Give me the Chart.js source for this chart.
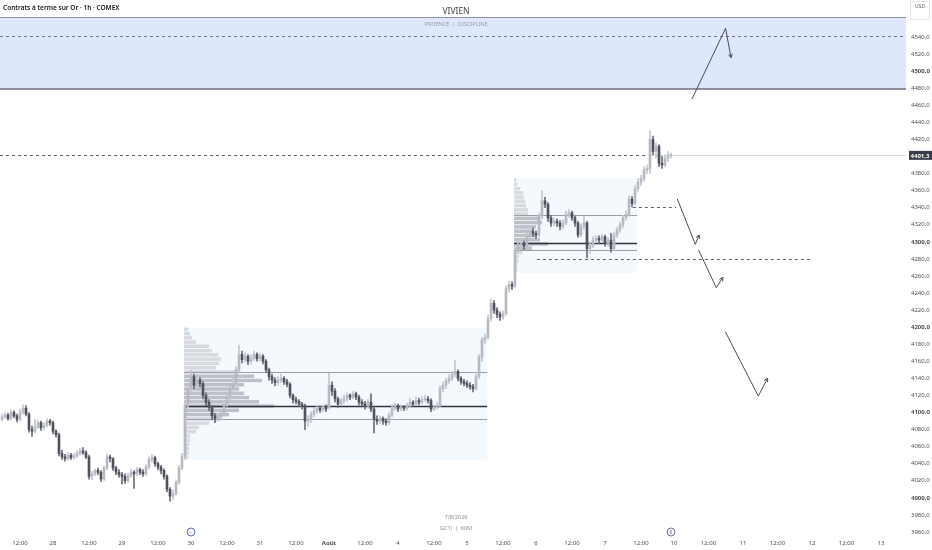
<!DOCTYPE html>
<html>
<head>
<meta charset="utf-8">
<script src="https://cdn.jsdelivr.net/npm/chart.js@4.4.1/dist/chart.umd.min.js"></script>
<style>
  html, body { margin: 0; padding: 0; background: #fff; }
  #wrap { width: 932px; height: 550px; }
</style>
</head>
<body>
<div id="wrap"><canvas id="gc"></canvas></div>
<script>
'use strict'
// GC1! 1h candles, one per trading hour (slot), first candle at slot -6
const firstSlot = -6;
const opens = [
  4092,4095,4097,4093,4100,4096,4092,4100,4105,4098,4080,4078,4083,4088,4082,4085,4090,4088,4078,4074,4052,
  4048,4046,4050,4047,4049,4052,4055,4053,4048,4025,4028,4032,4030,4022,4035,4048,4046,4035,4030,4027,
  4025,4020,4026,4030,4028,4033,4030,4028,4036,4045,4047,4040,4036,4032,4025,4010,4002,4005,4018,4035,
  4048,4108,4128,4142,4132,4138,4134,4120,4112,4106,4096,4093,4095,4098,4110,4118,4128,4134,4150,4168,
  4162,4166,4160,4164,4168,4163,4166,4160,4150,4142,4138,4135,4138,4140,4136,4133,4120,4115,4113,4110,
  4108,4090,4092,4098,4102,4105,4103,4107,
  4106,4132,4125,4116,4110,4114,4116,4120,4118,4122,4118,4112,4110,4108,4112,4104,4092,4090,4093,4090,
  4088,4097,4105,4108,4104,4106,4105,4108,4112,4110,4114,4112,4115,4116,4114,4104,4106,4108,4128,4132,
  4137,4140,4145,4148,4140,4136,4134,4132,4130,4128,
  4142,4165,4185,4188,4210,4228,4220,4215,4212,4216,4245,4250,4248,4290,4296,4298,4295,4306,4312,4310,
  4308,4330,4348,4344,4328,4322,4324,4322,4318,4322,4332,4334,4328,4322,4308,4318,4322,4292,4296,4302,
  4304,4302,4306,4298,4302,4292,4308,4314,4320,4328,4332,4350,4345,4362,4370,4374,4384,
  4386,4420,4406,4412,4392,4390,4398,4401
];
const highs = [
  4098,4100,4099,4103,4102,4098,4104,4109,4108,4100,4084,4092,4091,4090,4088,4093,4092,4090,4080,4076,4056,
  4051,4053,4052,4052,4055,4058,4059,4055,4050,4031,4034,4035,4032,4037,4051,4050,4047,4037,4033,4030,
  4028,4029,4034,4032,4036,4035,4033,4039,4048,4051,4049,4042,4038,4034,4027,4012,4009,4021,4038,4052,
  4112,4132,4150,4145,4142,4141,4136,4123,4115,4108,4099,4098,4101,4113,4121,4131,4140,4154,4179,4172,
  4170,4168,4168,4172,4170,4169,4168,4162,4152,4145,4141,4142,4145,4142,4139,4135,4122,4118,4115,4112,
  4110,4096,4101,4105,4108,4107,4109,4109,
  4146,4136,4128,4118,4117,4120,4123,4122,4125,4124,4120,4115,4113,4115,4122,4107,4096,4096,4095,4093,
  4100,4109,4111,4110,4109,4108,4111,4117,4114,4118,4117,4119,4120,4119,4116,4109,4112,4131,4136,4140,
  4144,4148,4161,4150,4142,4139,4137,4135,4133,4145,
  4168,4188,4192,4214,4233,4231,4223,4218,4219,4249,4254,4253,4295,4304,4303,4301,4310,4317,4316,4313,
  4334,4360,4352,4346,4331,4328,4327,4325,4326,4336,4338,4336,4330,4324,4321,4330,4324,4300,4306,4307,
  4307,4309,4308,4305,4310,4311,4317,4323,4331,4336,4354,4353,4366,4374,4378,4388,4390,
  4430,4424,4416,4414,4400,4402,4406,4404
];
const lows = [
  4090,4093,4091,4091,4094,4089,4090,4098,4096,4077,4072,4076,4081,4079,4080,4083,4085,4075,4071,4049,4045,
  4043,4044,4045,4045,4047,4050,4051,4046,4022,4021,4026,4027,4019,4020,4033,4042,4032,4027,4024,4016,
  4017,4018,4024,4011,4026,4027,4025,4026,4034,4042,4037,4033,4028,4022,4007,3996,3998,4003,4016,4033,
  4045,4105,4124,4128,4129,4130,4116,4108,4102,4092,4088,4090,4092,4096,4107,4115,4125,4131,4147,4158,
  4159,4156,4157,4161,4160,4160,4157,4147,4138,4134,4131,4132,4135,4133,4130,4117,4111,4110,4107,4104,
  4080,4084,4088,4095,4099,4100,4101,4101,
  4104,4120,4112,4106,4108,4111,4113,4115,4116,4115,4109,4107,4104,4105,4101,4076,4086,4087,4086,4085,
  4086,4095,4102,4101,4102,4102,4103,4106,4107,4108,4109,4110,4113,4111,4101,4102,4104,4106,4124,4128,
  4134,4137,4142,4137,4133,4131,4129,4127,4124,4126,
  4140,4160,4181,4186,4207,4216,4211,4208,4209,4214,4241,4244,4246,4286,4292,4291,4293,4303,4306,4304,
  4306,4327,4340,4324,4318,4319,4318,4314,4315,4320,4329,4325,4318,4305,4306,4315,4281,4286,4293,4299,
  4298,4299,4295,4295,4288,4290,4305,4311,4317,4325,4330,4341,4343,4359,4366,4371,4380,
  4380,4402,4398,4388,4386,4388,4394,4398
];
const closes = [
  4095,4097,4093,4100,4096,4092,4100,4105,4098,4080,4078,4083,4088,4082,4085,4090,4088,4078,4074,4052,4048,
  4046,4050,4047,4049,4052,4055,4053,4048,4025,4028,4032,4030,4022,4035,4048,4046,4035,4030,4027,4025,
  4020,4026,4030,4028,4033,4030,4028,4036,4045,4047,4040,4036,4032,4025,4010,4002,4005,4018,4035,4048,
  4108,4128,4142,4132,4138,4134,4120,4112,4106,4096,4093,4095,4098,4110,4118,4128,4134,4150,4168,4162,
  4166,4160,4164,4168,4163,4166,4160,4150,4142,4138,4135,4138,4140,4136,4133,4120,4115,4113,4110,4108,
  4090,4092,4098,4102,4105,4103,4107,4104,
  4132,4125,4116,4110,4114,4116,4120,4118,4122,4118,4112,4110,4108,4112,4104,4092,4090,4093,4090,4088,
  4097,4105,4108,4104,4106,4105,4108,4112,4110,4114,4112,4115,4116,4114,4104,4106,4108,4128,4132,4137,
  4140,4145,4148,4140,4136,4134,4132,4130,4128,4142,
  4165,4185,4188,4210,4228,4220,4215,4212,4216,4245,4250,4248,4290,4296,4298,4295,4306,4312,4310,4308,
  4330,4348,4344,4328,4322,4324,4322,4318,4322,4332,4334,4328,4322,4308,4318,4322,4292,4296,4302,4304,
  4302,4306,4298,4302,4292,4308,4314,4320,4328,4332,4350,4345,4362,4370,4374,4384,4386,
  4420,4406,4412,4392,4390,4398,4401,4401.3
];
const lastPrice = 4401.3;

// time axis (slots = trading hours)
const xTickSlots = [0, 11, 23, 34, 46, 57, 69, 80, 92, 103, 115, 126, 138, 149, 161, 172, 184, 195, 207, 218, 229.5, 241, 252.5, 264, 275.5, 287];
const xTickLabels = ['12:00','28','12:00','29','12:00','30','12:00','31','12:00','Août','12:00','4','12:00','5','12:00','6','12:00','7','12:00','10','12:00','11','12:00','12','12:00','13'];
const yTicks = [3960,3980,4000,4020,4040,4060,4080,4100,4120,4140,4160,4180,4200,4220,4240,4260,4280,4300,4320,4340,4360,4380,4400,4420,4440,4460,4480,4500,4520,4540];

// sell zone
const zoneTop = 4563;
const zoneBottom = 4479;
const zoneMid = 4541;

// volume profiles: [fromSlot, toSlot, lowPrice, highPrice], rows of 5
const profile1Box = [54.7, 155.7, 4044, 4199];
const profile1Start = 4045;
const profile1Vol = [4,5,5,5,6,6,12,15,25,37,45,55,90,75,65,60,55,60,78,70,55,32,35,37,34,28,25,12,8,6,4];
const profile1Lines = [4092.7, 4107.6, 4147.1]; // VAL, POC, VAH
const profile2Box = [164.7, 205.7, 4263.5, 4374.4];
const profile2Start = 4265;
const profile2Vol = [3,3,4,5,8,18,34,26,22,20,22,28,26,14,14,12,11,10,9,6,3,2];
const profile2Lines = [4290.4, 4299, 4331.1];

// dashed levels: [price, fromSlot, toSlot]
const dashedLevels = [[4401.3, -7, 209.3], [4340.4, 204.3, 218.7], [4279.5, 172.3, 264.3]];

// projected paths: [slot, price]
const arrowPaths = [
  [[224, 4467.4], [235.2, 4550.2], [237, 4515.8]],
  [[219.1, 4350.2], [225.1, 4297.1], [226.4, 4308.0]],
  [[226.2, 4290.4], [232.1, 4246.2], [234.3, 4258.4]],
  [[235.1, 4194.7], [246.1, 4119.3], [249.2, 4140.1]]
];

const BULL = '#b6b9c1';
const BEAR = '#4f525d';
const fmt = v => v.toFixed(1).replace('.', ',');
const isBull = i => closes[i] >= opens[i];

const bodyData = opens.map((o, i) => ({ x: firstSlot + i, y: [o, closes[i]] }));
const wickData = lows.map((l, i) => ({ x: firstSlot + i, y: [l, highs[i]] }));

function drawProfile(ctx, x, y, box, start, vols, lines) {
  const left = x.getPixelForValue(box[0]);
  const right = x.getPixelForValue(box[1]);
  const top = y.getPixelForValue(box[3]);
  const bottom = y.getPixelForValue(box[2]);
  ctx.fillStyle = '#f3f9fd';
  ctx.fillRect(left, top, right - left, bottom - top);
  vols.forEach(function (v, i) {
    const lo = start + i * 5;
    const y1 = y.getPixelForValue(lo + 5);
    const y2 = y.getPixelForValue(lo);
    const w = x.getPixelForValue(box[0] + v / 3) - left;
    const inVA = lo + 2.5 >= lines[0] && lo + 2.5 <= lines[2];
    ctx.fillStyle = inVA ? 'rgba(165,168,175,0.7)' : 'rgba(195,197,203,0.6)';
    ctx.fillRect(left, y1 + 0.4, w, y2 - y1 - 0.8);
  });
  lines.forEach(function (p, i) {
    const py = Math.round(y.getPixelForValue(p)) + 0.5;
    ctx.strokeStyle = i === 1 ? '#2f323b' : '#9a9da5';
    ctx.lineWidth = i === 1 ? 1.6 : 1;
    ctx.beginPath();
    ctx.moveTo(left, py);
    ctx.lineTo(right, py);
    ctx.stroke();
  });
}

let overlayPlugin = {
  id: 'overlay',
  beforeDatasetsDraw: function (chart) {
    const ctx = chart.ctx;
    const a = chart.chartArea;
    const x = chart.scales.x, y = chart.scales.y;
    ctx.save();
    ctx.beginPath();
    ctx.rect(a.left, a.top, a.right - a.left, a.bottom - a.top);
    ctx.clip();
    // zone
    const zt = y.getPixelForValue(zoneTop), zb = y.getPixelForValue(zoneBottom);
    ctx.fillStyle = '#dfe7fd';
    ctx.fillRect(a.left, zt, a.right - a.left, zb - zt);
    ctx.strokeStyle = '#8d919b';
    ctx.lineWidth = 1;
    ctx.beginPath(); ctx.moveTo(a.left, Math.round(zt) + 0.5); ctx.lineTo(a.right, Math.round(zt) + 0.5); ctx.stroke();
    ctx.strokeStyle = '#6e727c';
    ctx.lineWidth = 1.5;
    ctx.beginPath(); ctx.moveTo(a.left, zb); ctx.lineTo(a.right, zb); ctx.stroke();
    ctx.strokeStyle = '#70747e';
    ctx.lineWidth = 1;
    ctx.setLineDash([3, 3]);
    const zm = Math.round(y.getPixelForValue(zoneMid)) + 0.5;
    ctx.beginPath(); ctx.moveTo(a.left, zm); ctx.lineTo(a.right, zm); ctx.stroke();
    ctx.setLineDash([]);
    // profiles
    drawProfile(ctx, x, y, profile1Box, profile1Start, profile1Vol, profile1Lines);
    drawProfile(ctx, x, y, profile2Box, profile2Start, profile2Vol, profile2Lines);
    // last price solid line
    const lp = Math.round(y.getPixelForValue(lastPrice)) + 0.5;
    ctx.strokeStyle = '#d6d8dc';
    ctx.beginPath(); ctx.moveTo(x.getPixelForValue(209.3), lp); ctx.lineTo(a.right, lp); ctx.stroke();
    ctx.restore();
  },
  afterDraw: function (chart) {
    const ctx = chart.ctx;
    const a = chart.chartArea;
    const x = chart.scales.x, y = chart.scales.y;
    ctx.save();
    // dashed levels
    ctx.strokeStyle = '#5d616b';
    ctx.lineWidth = 1;
    ctx.setLineDash([3, 3]);
    dashedLevels.forEach(function (d) {
      const py = Math.round(y.getPixelForValue(d[0])) + 0.5;
      ctx.beginPath();
      ctx.moveTo(Math.max(a.left, x.getPixelForValue(d[1])), py);
      ctx.lineTo(x.getPixelForValue(d[2]), py);
      ctx.stroke();
    });
    ctx.setLineDash([]);
    // arrows
    ctx.strokeStyle = '#4a4d55';
    ctx.lineWidth = 1;
    arrowPaths.forEach(function (path) {
      const pts = path.map(p => [x.getPixelForValue(p[0]), y.getPixelForValue(p[1])]);
      ctx.beginPath();
      ctx.moveTo(pts[0][0], pts[0][1]);
      for (let i = 1; i < pts.length; i++) ctx.lineTo(pts[i][0], pts[i][1]);
      ctx.stroke();
      const e = pts[pts.length - 1], s = pts[pts.length - 2];
      const ang = Math.atan2(e[1] - s[1], e[0] - s[0]);
      ctx.beginPath();
      ctx.moveTo(e[0] - 4 * Math.cos(ang - 0.5), e[1] - 4 * Math.sin(ang - 0.5));
      ctx.lineTo(e[0], e[1]);
      ctx.lineTo(e[0] - 4 * Math.cos(ang + 0.5), e[1] - 4 * Math.sin(ang + 0.5));
      ctx.stroke();
    });
    // texts
    ctx.textBaseline = 'middle';
    ctx.textAlign = 'left';
    ctx.fillStyle = '#131722';
    ctx.font = '600 6.5px "Noto Sans"';
    ctx.fillText('Contrats à terme sur Or · 1h · COMEX', 3, 8);
    ctx.textAlign = 'center';
    ctx.fillStyle = '#3b3e46';
    ctx.font = '8.5px "Noto Sans"';
    ctx.fillText('VIVIEN', 456, 12);
    ctx.fillStyle = '#9a9ca3';
    ctx.font = '5.5px "Noto Sans"';
    ctx.fillText('PATIENCE  |  DISCIPLINE', 456, 24);
    ctx.fillStyle = '#8a8d94';
    ctx.font = '5.5px "Noto Sans"';
    ctx.fillText('7/8/2026', 456, 517);
    ctx.fillText('GC1!  |  60M', 456, 528);
    // axis unit
    ctx.strokeStyle = '#e3e4e8';
    ctx.strokeRect(910.5, 1.5, 19, 18);
    ctx.fillStyle = '#555861';
    ctx.font = '5px "Noto Sans"';
    ctx.fillText('USD', 920, 7);
    // events
    [57, 217].forEach(function (s, i) {
      const cx = x.getPixelForValue(s);
      ctx.strokeStyle = i === 0 ? '#5e67b8' : '#6b6e88';
      ctx.lineWidth = 1;
      ctx.beginPath(); ctx.arc(cx, 532, 4, 0, Math.PI * 2); ctx.stroke();
      ctx.fillStyle = ctx.strokeStyle;
      ctx.font = '5px "Noto Sans"';
      ctx.fillText(i === 0 ? '−' : '$', cx, 532.5);
    });
    // last price label
    const lp = y.getPixelForValue(lastPrice);
    ctx.fillStyle = '#3a3e4a';
    ctx.fillRect(909, lp - 4.5, 23, 9);
    ctx.fillStyle = '#ffffff';
    ctx.font = 'bold 6px "Noto Sans"';
    ctx.fillText(fmt(lastPrice), 920, lp + 0.5);
    ctx.restore();
  }
};

let chart = new Chart('gc', {
  type: 'bar',
  data: {
    datasets: [
      {
        label: 'Corps',
        data: bodyData,
        backgroundColor: ctx => isBull(ctx.dataIndex) ? BULL : BEAR,
        barThickness: 2,
        minBarLength: 1,
        grouped: false,
        order: 0
      },
      {
        label: 'Mèches',
        data: wickData,
        backgroundColor: ctx => isBull(ctx.dataIndex) ? '#c4c7cd' : '#6a6d77',
        barThickness: 1,
        grouped: false,
        order: 1
      }
    ]
  },
  options: {
    animation: false,
    responsive: true,
    maintainAspectRatio: false,
    layout: { padding: { top: 16, left: 0, right: 0, bottom: 0 } },
    plugins: { legend: { display: false }, tooltip: { enabled: false } },
    scales: {
      x: {
        type: 'linear',
        offset: false,
        min: -6.667,
        max: 295.33,
        grid: { display: false, drawTicks: false },
        border: { display: false },
        afterBuildTicks: s => { s.ticks = xTickSlots.map(v => ({ value: v })); },
        afterFit: s => { s.height = 13; s.paddingLeft = 0; s.paddingRight = 0; },
        ticks: {
          autoSkip: false,
          maxRotation: 0,
          padding: 3,
          color: '#4a4d55',
          font: ctx => ({ family: 'Noto Sans', size: 6, weight: xTickLabels[ctx.index] === 'Août' ? 'bold' : 'normal' }),
          callback: (v, i) => xTickLabels[i]
        }
      },
      y: {
        position: 'right',
        min: 3954.1,
        max: 4564.6,
        grid: { display: false, drawTicks: false },
        border: { display: false },
        afterBuildTicks: s => { s.ticks = yTicks.map(v => ({ value: v })); },
        afterFit: s => { s.width = 26; s.paddingTop = 0; s.paddingBottom = 0; },
        ticks: {
          padding: 5,
          color: '#4a4d55',
          font: ctx => ({ family: 'Noto Sans', size: 6, weight: ctx.tick && ctx.tick.value % 100 === 0 ? 'bold' : 'normal' }),
          callback: v => fmt(v)
        }
      }
    }
  },
  plugins: [overlayPlugin]
});
</script>
</body>
</html>
